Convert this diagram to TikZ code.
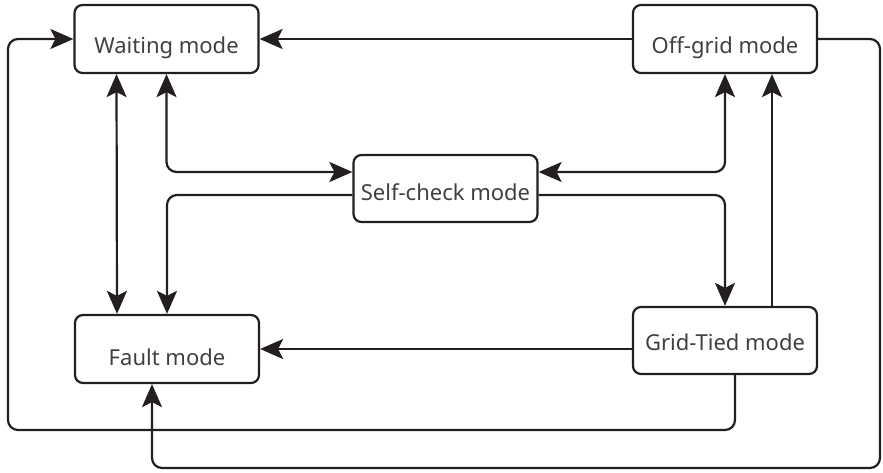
\documentclass[tikz,border=0pt]{standalone}
\usepackage{fontspec}
\setmainfont{Noto Sans}
\usepackage{tikz}
\usetikzlibrary{arrows.meta,positioning}
\definecolor{lineblack}{HTML}{231F20}
\definecolor{textgray}{HTML}{404040}
\tikzset{
  modebox/.style={draw=lineblack,line width=2.2pt,rounded corners=8pt,
    minimum width=184pt,minimum height=68pt,inner sep=0pt,
    text=textgray,font=\fontsize{22}{26}\selectfont,
    text depth=5pt,text height=#1},
  modebox/.default=34.7pt,
  link/.style={draw=lineblack,line width=2.2pt,rounded corners=10pt,
    -{Stealth[length=23pt,width=20pt,inset=5pt]}},
  duallink/.style={link,{Stealth[length=23pt,width=20pt,inset=5pt]}-{Stealth[length=23pt,width=20pt,inset=5pt]}}
}

\begin{document}
\begin{tikzpicture}[x=1pt,y=-1pt]
    \useasboundingbox (0,0) rectangle (883,473);
    \node[modebox] (wait) at (166.5,39) {Waiting mode};
    \node[modebox] (off) at (725,39) {Off-grid mode};
    \node[modebox=29.7pt,minimum height=67pt] (self) at (445.5,188.5) {Self-check mode};
    \node[modebox=38.7pt] (fault) at (167,349) {Fault mode};
    \node[modebox=25.7pt,minimum height=67pt] (grid) at (725,340.5) {Grid-Tied mode};
    \coordinate (lowL) at (8,430);
    \coordinate (lowR) at (880,468);

    \draw[link] (off.west) -- (wait.west -| wait.east);
    \draw[link] ([xshift=10pt]grid.south) |- (lowL) |- (wait.west);
    \draw[link] (off.east) -| (lowR) -| ([xshift=-15pt]fault.south);
    \draw[duallink] ([xshift=-50pt]wait.south) -- ([xshift=-50pt]fault.north);
    \draw[duallink] (wait.south) |- ([yshift=16.5pt]self.west);
    \draw[link] ([yshift=-6.5pt]self.west) -| (fault.north);
    \draw[duallink] (off.south) |- ([yshift=16.5pt]self.east);
    \draw[link] ([yshift=-6.5pt]self.east) -| (grid.north);
    \draw[link] ([xshift=47pt]grid.north) -- ([xshift=47pt]off.south);
    \draw[link] (grid.west |- fault.east) -- (fault.east);
\end{tikzpicture}
\end{document}
